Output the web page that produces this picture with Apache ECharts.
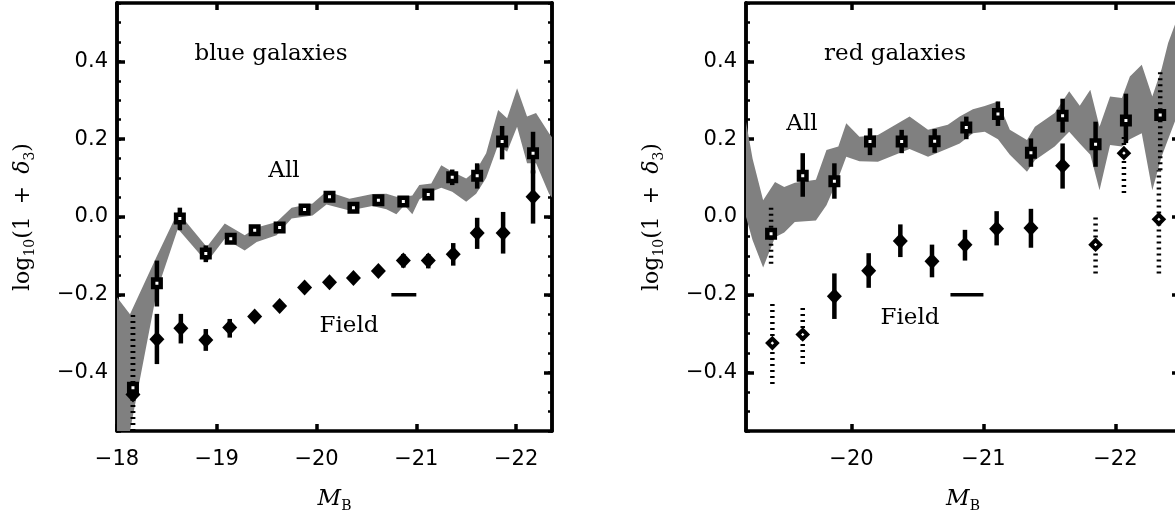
<!DOCTYPE html>
<html><head><meta charset="utf-8">
<script src="https://cdn.jsdelivr.net/npm/echarts@6/dist/echarts.min.js"></script>
<style>html,body{margin:0;padding:0;background:#fff}#c{width:1175px;height:510px}</style>
</head><body><div id="c"></div>
<script>
// ---------- Blue galaxies (left panel) ----------
const blueAllX  = [-18.16,-18.40,-18.63,-18.89,-19.14,-19.38,-19.63,-19.88,-20.13,-20.37,-20.62,-20.87,-21.12,-21.36,-21.61,-21.86,-22.17];
const blueAllY  = [-0.439,-0.170,-0.004,-0.094,-0.056,-0.034,-0.027,0.019,0.052,0.024,0.043,0.040,0.058,0.102,0.106,0.194,0.164];
const blueAllLo = [-0.55,-0.230,-0.034,-0.116,-0.068,-0.046,-0.039,0.007,0.040,0.012,0.031,0.028,0.046,0.082,0.073,0.148,0.112];
const blueAllHi = [-0.26,-0.112,0.024,-0.073,-0.044,-0.022,-0.015,0.031,0.064,0.036,0.055,0.052,0.070,0.122,0.138,0.234,0.219];
const blueAllDotted = [1,0,0,0,0,0,0,0,0,0,0,0,0,0,0,0,0];

const blueFieldX  = [-18.16,-18.40,-18.64,-18.89,-19.13,-19.38,-19.63,-19.88,-20.13,-20.37,-20.62,-20.87,-21.12,-21.37,-21.61,-21.87,-22.17];
const blueFieldY  = [-0.456,-0.314,-0.286,-0.316,-0.284,-0.256,-0.229,-0.181,-0.168,-0.157,-0.139,-0.112,-0.112,-0.096,-0.041,-0.041,0.052];
const blueFieldLo = [-0.55,-0.378,-0.325,-0.344,-0.310,-0.267,-0.240,-0.192,-0.179,-0.168,-0.151,-0.130,-0.132,-0.125,-0.082,-0.094,-0.017];
const blueFieldHi = [-0.25,-0.249,-0.249,-0.288,-0.262,-0.245,-0.218,-0.170,-0.157,-0.146,-0.127,-0.095,-0.095,-0.067,-0.002,0.013,0.120];
const blueFieldDotted = [1,0,0,0,0,0,0,0,0,0,0,0,0,0,0,0,0];
const blueFieldOpen   = [0,0,0,0,0,0,0,0,0,0,0,0,0,0,0,0,0];

const blueBandX  = [-18.0,-18.13,-18.40,-18.61,-18.90,-19.08,-19.28,-19.40,-19.60,-19.75,-19.96,-20.10,-20.33,-20.56,-20.70,-20.80,-20.88,-20.96,-21.03,-21.15,-21.25,-21.36,-21.50,-21.60,-21.70,-21.82,-21.91,-22.01,-22.11,-22.20,-22.33,-22.36];
const blueBandUp = [-0.206,-0.25,-0.10,0.013,-0.077,-0.017,-0.047,-0.027,-0.013,0.024,0.035,0.066,0.047,0.059,0.060,0.052,0.052,0.055,0.082,0.086,0.133,0.116,0.099,0.120,0.164,0.275,0.254,0.331,0.258,0.267,0.215,0.205];
const blueBandLo = [-0.55,-0.55,-0.19,-0.030,-0.116,-0.056,-0.086,-0.064,-0.047,-0.004,0.004,0.032,0.017,0.028,0.020,0.007,0.030,0.007,0.045,0.065,0.075,0.065,0.039,0.060,0.100,0.185,0.168,0.232,0.138,0.138,0.060,0.050];

// ---------- Red galaxies (right panel) ----------
const redAllX  = [-19.39,-19.63,-19.87,-20.14,-20.38,-20.63,-20.87,-21.11,-21.36,-21.60,-21.85,-22.08,-22.34];
const redAllY  = [-0.043,0.106,0.092,0.194,0.194,0.195,0.230,0.265,0.165,0.260,0.187,0.248,0.262];
const redAllLo = [-0.12,0.052,0.047,0.159,0.164,0.165,0.200,0.234,0.129,0.217,0.129,0.190,0.12];
const redAllHi = [0.03,0.164,0.138,0.228,0.224,0.226,0.258,0.297,0.202,0.304,0.245,0.317,0.379];
const redAllDotted = [1,0,0,0,0,0,0,0,0,0,0,0,1];

const redFieldX  = [-19.40,-19.63,-19.87,-20.13,-20.37,-20.61,-20.86,-21.10,-21.36,-21.60,-21.85,-22.065,-22.33];
const redFieldY  = [-0.324,-0.302,-0.204,-0.138,-0.062,-0.114,-0.071,-0.030,-0.028,0.132,-0.071,0.164,-0.006];
const redFieldLo = [-0.429,-0.378,-0.262,-0.182,-0.103,-0.155,-0.112,-0.073,-0.079,0.073,-0.145,0.062,-0.145];
const redFieldHi = [-0.214,-0.227,-0.145,-0.093,-0.019,-0.071,-0.033,0.015,0.021,0.189,0.006,0.215,0.12];
const redFieldDotted = [1,1,0,0,0,0,0,0,0,0,1,1,1];
const redFieldOpen   = [1,1,0,0,0,0,0,0,0,0,1,1,1];

const redBandX  = [-19.20,-19.25,-19.33,-19.42,-19.49,-19.57,-19.73,-19.81,-19.90,-19.96,-20.06,-20.20,-20.44,-20.58,-20.73,-20.82,-20.92,-21.01,-21.11,-21.20,-21.33,-21.39,-21.54,-21.65,-21.73,-21.81,-21.88,-21.96,-22.05,-22.11,-22.20,-22.28,-22.35,-22.40,-22.49];
const redBandUp = [0.245,0.15,0.043,0.090,0.077,0.088,0.096,0.172,0.181,0.241,0.206,0.211,0.258,0.224,0.237,0.258,0.277,0.285,0.297,0.224,0.198,0.232,0.267,0.323,0.286,0.327,0.232,0.310,0.306,0.361,0.391,0.310,0.38,0.447,0.53];
const redBandLo = [0.0,-0.06,-0.13,-0.052,-0.040,-0.013,-0.009,0.03,0.10,0.155,0.143,0.142,0.175,0.155,0.176,0.189,0.215,0.219,0.200,0.160,0.116,0.146,0.181,0.219,0.189,0.16,0.069,0.185,0.181,0.20,0.215,0.069,0.155,0.2,0.28];

// scale bar shown under "Field"
const scaleBarX = [-20.75, -21.0];
const scaleBarY = -0.2;

// axis ranges and tick labels
const xRanges = [[-22.36, -18.0], [-22.49, -19.2]];
const xTickValues = [[-18, -19, -20, -21, -22], [-20, -21, -22]];
const yRange = [-0.55, 0.55];
const yTickValues = [-0.4, -0.2, 0.0, 0.2, 0.4];
const panelTitles = ['blue galaxies', 'red galaxies'];

const chart = echarts.init(document.getElementById('c'), null, {renderer: 'canvas'});
const AX = '#000';
const LW = 3.5;
const labelFont = 'DejaVu Sans';
const serif = 'DejaVu Serif';
const fmtX = v => '\u2212' + Math.abs(v);
const fmtY = v => (v < 0 ? '\u2212' : '') + Math.abs(v).toFixed(1);

const grids = [
  {left: 117, top: 3, width: 435, height: 428, outerBoundsMode: 'none', containLabel: false},
  {left: 746, top: 3, width: 434, height: 428, outerBoundsMode: 'none', containLabel: false}
];

const xAxes = [], yAxes = [];
for (let g = 0; g < 2; g++) {
  const base = {
    gridIndex: g, type: 'value', min: xRanges[g][0], max: xRanges[g][1], inverse: true,
    axisLine: {show: true, onZero: false, lineStyle: {color: AX, width: LW}},
    axisTick: {show: true, inside: true, length: 7, customValues: xTickValues[g], lineStyle: {color: AX, width: LW}},
    splitLine: {show: false}
  };
  xAxes.push(Object.assign({}, base, {
    position: 'bottom',
    axisLabel: {show: true, customValues: xTickValues[g], formatter: fmtX, margin: 18, color: '#000', fontFamily: labelFont, fontSize: 21},
    name: '{i|M}{s|B}', nameLocation: 'middle', nameGap: 54,
    nameTextStyle: {rich: {
      i: {fontFamily: serif, fontStyle: 'italic', fontSize: 23, color: '#000', lineHeight: 28, verticalAlign: 'middle'},
      s: {fontFamily: serif, fontSize: 14, color: '#000', lineHeight: 15, verticalAlign: 'bottom'}
    }}
  }));
  xAxes.push(Object.assign({}, base, {position: 'top', axisLabel: {show: false}}));

  const yb = {
    gridIndex: g, type: 'value', min: yRange[0], max: yRange[1],
    axisLine: {show: true, onZero: false, lineStyle: {color: AX, width: LW}},
    splitLine: {show: false}
  };
  yAxes.push(Object.assign({}, yb, {position: 'left', interval: 0.05,
    axisTick: {show: true, inside: true, length: 4, lineStyle: {color: AX, width: 2.5}}, axisLabel: {show: false}}));
  yAxes.push(Object.assign({}, yb, {position: 'left',
    axisTick: {show: true, inside: true, length: 8, customValues: yTickValues, lineStyle: {color: AX, width: LW}},
    axisLabel: {show: true, customValues: yTickValues, formatter: fmtY, margin: 9, color: '#000', fontFamily: labelFont, fontSize: 21},
    name: '{a|log}{s|10}{a|(1 }{p|+}{a| }{i|δ}{s|3}{a|)}', nameLocation: 'middle', nameRotate: 90, nameGap: 80,
    nameTextStyle: {rich: {
      a: {fontFamily: serif, fontSize: 22, color: '#000', lineHeight: 28, verticalAlign: 'middle'},
      p: {fontFamily: serif, fontSize: 22, color: '#000', lineHeight: 28, verticalAlign: 'middle', padding: [0, 5, 0, 5]},
      i: {fontFamily: serif, fontStyle: 'italic', fontSize: 22, color: '#000', lineHeight: 28, verticalAlign: 'middle'},
      s: {fontFamily: serif, fontSize: 14, color: '#000', lineHeight: 15, verticalAlign: 'bottom'}
    }}
  }));
  yAxes.push(Object.assign({}, yb, {position: 'right', interval: 0.05,
    axisTick: {show: true, inside: true, length: 4, lineStyle: {color: AX, width: 2.5}}, axisLabel: {show: false}}));
  yAxes.push(Object.assign({}, yb, {position: 'right',
    axisTick: {show: true, inside: true, length: 8, customValues: yTickValues, lineStyle: {color: AX, width: LW}},
    axisLabel: {show: false}}));
}

function bandSeries(g, X, U, L) {
  return {
    type: 'custom', xAxisIndex: 2 * g, yAxisIndex: 4 * g + 1, silent: true, z: 1,
    data: [[X[0], U[0]]],
    renderItem: function (params, api) {
      const top = X.map((x, i) => api.coord([x, U[i]]));
      const bot = X.map((x, i) => api.coord([x, L[i]])).reverse();
      return {type: 'polygon', shape: {points: top.concat(bot)}, style: {fill: '#808080', stroke: null}};
    }
  };
}
function errSeries(g, X, Lo, Hi, D) {
  return {
    type: 'custom', xAxisIndex: 2 * g, yAxisIndex: 4 * g + 1, silent: true, z: 3,
    data: X.map((x, i) => [x, Lo[i], Hi[i], D[i]]),
    encode: {x: 0, y: [1, 2]},
    renderItem: function (params, api) {
      const p1 = api.coord([api.value(0), api.value(1)]);
      const p2 = api.coord([api.value(0), api.value(2)]);
      const dotted = api.value(3) === 1;
      return {type: 'line', shape: {x1: p1[0], y1: p1[1], x2: p2[0], y2: p2[1]},
        style: {stroke: '#000', lineWidth: 4.5, lineDash: dotted ? [2, 4] : null}};
    }
  };
}
function squareSeries(g, X, Y) {
  return {
    type: 'scatter', xAxisIndex: 2 * g, yAxisIndex: 4 * g + 1, silent: true, z: 5,
    symbol: 'rect', symbolSize: 7.5,
    itemStyle: {color: '#fff', borderColor: '#000', borderWidth: 4.5, opacity: 1},
    data: X.map((x, i) => [x, Y[i]])
  };
}
function diamondSeries(g, X, Y, O) {
  return {
    type: 'scatter', xAxisIndex: 2 * g, yAxisIndex: 4 * g + 1, silent: true, z: 4,
    symbol: 'diamond',
    data: X.map((x, i) => O[i] ?
      {value: [x, Y[i]], symbolSize: 9, itemStyle: {color: '#fff', borderColor: '#000', borderWidth: 4, opacity: 1}} :
      {value: [x, Y[i]], symbolSize: [15, 16], itemStyle: {color: '#000', borderWidth: 0, opacity: 1}})
  };
}
function scaleBar(g) {
  return {
    type: 'line', xAxisIndex: 2 * g, yAxisIndex: 4 * g + 1, silent: true, z: 3,
    symbol: 'none', lineStyle: {color: '#000', width: 3.5},
    data: scaleBarX.map(x => [x, scaleBarY])
  };
}

const series = [
  bandSeries(0, blueBandX, blueBandUp, blueBandLo),
  errSeries(0, blueAllX, blueAllLo, blueAllHi, blueAllDotted),
  errSeries(0, blueFieldX, blueFieldLo, blueFieldHi, blueFieldDotted),
  diamondSeries(0, blueFieldX, blueFieldY, blueFieldOpen),
  squareSeries(0, blueAllX, blueAllY),
  scaleBar(0),
  bandSeries(1, redBandX, redBandUp, redBandLo),
  errSeries(1, redAllX, redAllLo, redAllHi, redAllDotted),
  errSeries(1, redFieldX, redFieldLo, redFieldHi, redFieldDotted),
  diamondSeries(1, redFieldX, redFieldY, redFieldOpen),
  squareSeries(1, redAllX, redAllY),
  scaleBar(1)
];

function txt(str, x, y) {
  return {type: 'text', x: x, y: y, silent: true, z: 10,
    style: {text: str, fill: '#000', font: '23px "DejaVu Serif"', verticalAlign: 'middle', align: 'center'}};
}

chart.setOption({
  animation: false,
  backgroundColor: '#fff',
  grid: grids,
  xAxis: xAxes,
  yAxis: yAxes,
  series: series,
  graphic: [
    txt(panelTitles[0], 271, 54),
    txt('All', 284, 171),
    txt('Field', 349, 326),
    txt(panelTitles[1], 895, 54),
    txt('All', 802, 124),
    txt('Field', 910, 318)
  ]
});
</script></body></html>
